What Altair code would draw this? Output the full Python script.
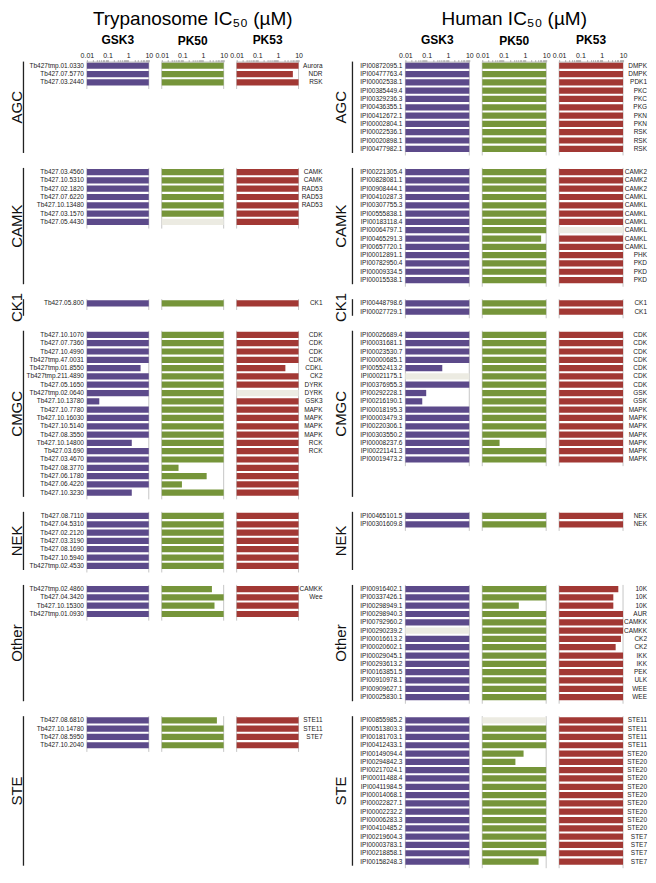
import altair as alt
import pandas as pd

FONT = "Liberation Sans"
GROUPS = ["AGC", "CAMK", "CK1", "CMGC", "NEK", "Other", "STE"]
TICKS = [0.01, 0.02, 0.03, 0.04, 0.05, 0.06, 0.07, 0.08, 0.09,
         0.1, 0.2, 0.3, 0.4, 0.5, 0.6, 0.7, 0.8, 0.9,
         1, 2, 3, 4, 5, 6, 7, 8, 9, 10]
TICK_LABELS = [0.01, 0.1, 1, 10]

# ---------------- Trypanosome ----------------
TRYP_COUNTS = [3, 7, 1, 20, 7, 4, 4]
TRYP_IDS = [
    "Tb427tmp.01.0330", "Tb427.07.5770", "Tb427.03.2440",
    "Tb427.03.4560", "Tb427.10.5310", "Tb427.02.1820", "Tb427.07.6220", "Tb427.10.13480", "Tb427.03.1570", "Tb427.05.4430",
    "Tb427.05.800",
    "Tb427.10.1070", "Tb427.07.7360", "Tb427.10.4990", "Tb427tmp.47.0031", "Tb427tmp.01.8550", "Tb427tmp.211.4890",
    "Tb427.05.1650", "Tb427tmp.02.0640", "Tb427.10.13780", "Tb427.10.7780", "Tb427.10.16030", "Tb427.10.5140",
    "Tb427.08.3550", "Tb427.10.14800", "Tb427.03.690", "Tb427.03.4670", "Tb427.08.3770", "Tb427.06.1780",
    "Tb427.06.4220", "Tb427.10.3230",
    "Tb427.08.7110", "Tb427.04.5310", "Tb427.02.2120", "Tb427.03.3190", "Tb427.08.1690", "Tb427.10.5940", "Tb427tmp.02.4530",
    "Tb427tmp.02.4860", "Tb427.04.3420", "Tb427.10.15300", "Tb427tmp.01.0930",
    "Tb427.08.6810", "Tb427.10.14780", "Tb427.08.5950", "Tb427.10.2040",
]
TRYP_FAMILY = [
    "Aurora", "NDR", "RSK",
    "CAMK", "CAMK", "RAD53", "RAD53", "RAD53", "", "",
    "CK1",
    "CDK", "CDK", "CDK", "CDK", "CDKL", "CK2", "DYRK", "DYRK", "GSK3", "MAPK", "MAPK", "MAPK", "MAPK",
    "RCK", "RCK", "", "", "", "", "",
    "", "", "", "", "", "", "",
    "CAMKK", "Wee", "", "",
    "STE11", "STE11", "STE7", "",
]
TRYP_GSK3 = [
    10, 10, 10,
    10, 10, 10, 10, 10, 10, 10,
    10,
    10, 10, 10, 10, 4, 10, 10, 10, 0.04, 10, 10, 10, 10, 1.5, 10, 10, 10, 10, 10, 1.5,
    10, 10, 10, 10, 10, 10, 10,
    10, 10, 10, 10,
    10, 10, 10, 10,
]
TRYP_PK50 = [
    10, 10, 10,
    10, 10, 10, 10, 10, 10, None,
    10,
    10, 10, 10, 10, 10, 10, 10, 10, 10, 10, 10, 10, 10, 10, 10, 10, 0.065, 1.5, 0.095, 10,
    10, 10, 10, 10, 10, 10, 10,
    2.7, 10, 3.6, 10,
    4.7, 10, 10, 10,
]
TRYP_PK53 = [
    10, 5.3, 10,
    10, 10, 10, 10, 10, 10, 10,
    10,
    10, 10, 10, 10, 2.3, 10, 10, None, 10, 10, 10, 10, 10, 10, 10, 10, 10, 10, 10, 10,
    10, 10, 10, 10, 10, 10, 10,
    10, 10, 10, 10,
    10, 10, 10, 10,
]

# ---------------- Human ----------------
HUMAN_COUNTS = [11, 14, 2, 16, 2, 14, 18]
HUMAN_IDS = [
    "IPI00872095.1", "IPI00477763.4", "IPI00002538.1", "IPI00385449.4", "IPI00329236.3", "IPI00436355.1",
    "IPI00412672.1", "IPI00002804.1", "IPI00022536.1", "IPI00020898.1", "IPI00477982.1",
    "IPI00221305.4", "IPI00828081.1", "IPI00908444.1", "IPI00410287.3", "IPI00307755.3", "IPI00555838.1",
    "IPI00183118.4", "IPI00064797.1", "IPI00465291.3", "IPI00657720.1", "IPI00012891.1", "IPI00782950.4",
    "IPI00009334.5", "IPI00015538.1",
    "IPI00448798.6", "IPI00027729.1",
    "IPI00026689.4", "IPI00031681.1", "IPI00023530.7", "IPI00000685.1", "IPI00552413.2", "IPI00021175.1",
    "IPI00376955.3", "IPI00292228.1", "IPI00216190.1", "IPI00018195.3", "IPI00003479.3", "IPI00220306.1",
    "IPI00303550.2", "IPI00008237.6", "IPI00221141.3", "IPI00019473.2",
    "IPI00465101.5", "IPI00301609.8",
    "IPI00916402.1", "IPI00337426.1", "IPI00298949.1", "IPI00298940.3", "IPI00792960.2", "IPI00290239.2",
    "IPI00016613.2", "IPI00020602.1", "IPI00029045.1", "IPI00293613.2", "IPI00163851.5", "IPI00910978.1",
    "IPI00909627.1", "IPI00025830.1",
    "IPI00855985.2", "IPI00513803.3", "IPI00181703.1", "IPI00412433.1", "IPI00149094.4", "IPI00294842.3",
    "IPI00217024.1", "IPI00011488.4", "IPI00411984.5", "IPI00014068.1", "IPI00022827.1", "IPI00002232.2",
    "IPI00006283.3", "IPI00410485.2", "IPI00219604.3", "IPI00003783.1", "IPI00218858.1", "IPI00158248.3",
]
HUMAN_FAMILY = [
    "DMPK", "DMPK", "PDK1", "PKC", "PKC", "PKG", "PKN", "PKN", "RSK", "RSK", "RSK",
    "CAMK2", "CAMK2", "CAMK2", "CAMKL", "CAMKL", "CAMKL", "CAMKL", "CAMKL", "CAMKL", "CAMKL",
    "PHK", "PKD", "PKD", "PKD",
    "CK1", "CK1",
    "CDK", "CDK", "CDK", "CDK", "CDK", "CDK", "CDK", "GSK", "GSK",
    "MAPK", "MAPK", "MAPK", "MAPK", "MAPK", "MAPK", "MAPK",
    "NEK", "NEK",
    "10K", "10K", "10K", "AUR", "CAMKK", "CAMKK", "CK2", "CK2", "IKK", "IKK", "PEK", "ULK", "WEE", "WEE",
    "STE11", "STE11", "STE11", "STE11", "STE20", "STE20", "STE20", "STE20", "STE20", "STE20", "STE20",
    "STE20", "STE20", "STE20", "STE7", "STE7", "STE7", "STE7",
]
HUMAN_GSK3 = [
    10, 10, 10, 10, 10, 10, 10, 10, 10, 10, 10,
    10, 10, 10, 10, 10, 10, 10, 10, 10, 10, 10, 10, 10, 10,
    10, 10,
    10, 10, 10, 10, 0.54, None, 10, 0.095, 0.062, 10, 10, 10, 10, 10, 10, 10,
    10, 10,
    10, 10, 10, 10, 10, None, 10, 10, 10, 10, 10, 10, 10, 10,
    10, 10, 10, 10, 10, 10, 10, 10, 10, 10, 10, 10, 10, 10, 10, 10, 10, 10,
]
HUMAN_PK50 = [
    10, 10, 10, 10, 10, 10, 10, 10, 10, 10, 10,
    10, 10, 10, 10, 10, 10, 10, 10, 5.8, 10, 10, 10, 10, 10,
    10, 10,
    10, 10, 10, 10, 10, 10, 10, 10, 10, 10, 10, 10, 10, 0.065, 10, 10,
    10, 10,
    10, 10, 0.52, 10, 10, 10, 10, 10, 10, 10, 10, 10, 10, 10,
    None, 10, 10, 10, 0.87, 0.36, 10, 10, 10, 10, 10, 10, 10, 10, 10, 10, 10, 4.4,
]
HUMAN_PK53 = [
    10, 10, 10, 10, 10, 10, 10, 10, 10, 10, 10,
    10, 10, 10, 10, 10, 10, 10, None, 10, 10, 10, 10, 10, 10,
    10, 10,
    10, 10, 10, 10, 10, 10, 10, 10, 10, 10, 10, 10, 10, 10, 10, 10,
    10, 10,
    6, 3.5, 3.5, 10, 10, 10, 8, 4.5, 10, 10, 10, 10, 10, 10,
    10, 10, 10, 10, 10, 10, 10, 10, 10, 10, 10, 10, 10, 10, 10, 10, 10, 10,
]

COLORS = {"GSK3": "#5c4a8a", "PK50": "#76953a", "PK53": "#a23834"}
GRAY = "#ecebe2"

# ---------------- layout helpers ----------------
GAP = 1.8
STEP = 8.32
BLOCK = [max(a, b) for a, b in zip(TRYP_COUNTS, HUMAN_COUNTS)]
STARTS = []
_s = 0.0
for n in BLOCK:
    STARTS.append(_s)
    _s += n + GAP
N_SLOTS = _s - GAP + 0.4
H = N_SLOTS * STEP


def side_frames(side, counts, ids, fams, g, p50, p53):
    rows, edges = [], []
    k = 0
    for gi, n in enumerate(counts):
        for i in range(n):
            for kin, vals in (("GSK3", g), ("PK50", p50), ("PK53", p53)):
                v = vals[k]
                rows.append({"side": side, "kinase": kin, "group": GROUPS[gi], "name": ids[k],
                             "family": fams[k], "slot": STARTS[gi] + i,
                             "value": v, "missing": v is None})
            k += 1
        for xv in (0.01, 10):
            edges.append({"side": side, "group": GROUPS[gi], "start": STARTS[gi], "n": n, "xv": xv})
    return pd.DataFrame(rows), pd.DataFrame(edges)


tryp_df, tryp_edges = side_frames("T", TRYP_COUNTS, TRYP_IDS, TRYP_FAMILY, TRYP_GSK3, TRYP_PK50, TRYP_PK53)
hum_df, hum_edges = side_frames("H", HUMAN_COUNTS, HUMAN_IDS, HUMAN_FAMILY, HUMAN_GSK3, HUMAN_PK50, HUMAN_PK53)

yscale = alt.Scale(domain=[0, N_SLOTS], reverse=True, nice=False, zero=False)


def xscale():
    return alt.Scale(type="log", domain=[0.01, 10], nice=False)


def xaxis():
    return alt.Axis(orient="top", values=TICKS, format="~g",
                    labelExpr="indexof(%s, datum.value) >= 0 ? datum.label : ''" % str(TICK_LABELS),
                    tickSize=2, labelFontSize=7, labelPadding=1, labelColor="#222",
                    domainColor="#a0a0a0", tickColor="#a0a0a0", domainWidth=0.8, tickWidth=0.8,
                    grid=False, title=None, labelOverlap=False, labelFlush=False)


def panel(df, edges, kin, width, title, names=False, family=False):
    d = df[df.kinase == kin]
    base = alt.Chart(d)
    edge = alt.Chart(edges).transform_calculate(end="datum.start + datum.n + 0.3").mark_rule(
        color="#b8b8b8", strokeWidth=0.8).encode(
        x=alt.X("xv:Q", scale=xscale(), axis=xaxis()),
        y=alt.Y("start:Q", scale=yscale, axis=None), y2="end:Q")
    bars = base.transform_calculate(
        lo="0.01", hi="datum.missing ? 10 : datum.value",
        y0="datum.slot + 0.125", y1="datum.slot + 0.875").mark_rect().encode(
        x=alt.X("lo:Q", scale=xscale(), axis=xaxis()), x2="hi:Q",
        y=alt.Y("y0:Q", scale=yscale, axis=None), y2="y1:Q",
        color=alt.condition(alt.datum.missing, alt.value(GRAY), alt.value(COLORS[kin])))
    layers = [edge, bars]
    if names:
        layers.append(base.transform_calculate(yc="datum.slot + 0.5").mark_text(
            align="right", baseline="middle", fontSize=6.5, color="#222", dx=-3).encode(
            x=alt.value(0), y=alt.Y("yc:Q", scale=yscale, axis=None), text="name:N"))
    if family:
        layers.append(base.transform_calculate(yc="datum.slot + 0.5").mark_text(
            align="right", baseline="middle", fontSize=6.5, color="#222").encode(
            x=alt.value(width + 24), y=alt.Y("yc:Q", scale=yscale, axis=None), text="family:N"))
    return alt.layer(*layers).properties(width=width, height=H, title=title)


def sub_title(t):
    return alt.TitleParams(t, fontSize=12, fontWeight="bold", offset=5, anchor="middle", color="black")


def main_title(t, sub):
    return alt.TitleParams(t, subtitle=sub, fontSize=19, fontWeight="normal", color="black",
                           subtitleFontSize=12, subtitleFontWeight="bold", subtitleColor="black",
                           subtitlePadding=7, offset=5, anchor="middle")


grp_df = pd.DataFrame({"group": GROUPS, "start": STARTS, "n": BLOCK})


def group_chart(width, xt, xr):
    g = alt.Chart(grp_df).transform_calculate(end="datum.start + datum.n",
                                               mid="datum.start + datum.n / 2")
    line = g.mark_rule(color="#222", strokeWidth=1.3).encode(
        x=alt.value(xr), y=alt.Y("start:Q", scale=yscale, axis=None), y2="end:Q")
    txt = g.mark_text(angle=270, align="center", baseline="middle", fontSize=15, color="#111").encode(
        x=alt.value(xt), y=alt.Y("mid:Q", scale=yscale, axis=None), text="group:N")
    return alt.layer(line, txt).properties(width=width, height=H)


W_L = 62
W_R = 64
charts = [
    group_chart(63, 6, 12.5),
    panel(tryp_df, tryp_edges, "GSK3", W_L, sub_title("GSK3"), names=True),
    panel(tryp_df, tryp_edges, "PK50", W_L, main_title("Trypanosome IC₅₀ (µM)", "PK50")),
    panel(tryp_df, tryp_edges, "PK53", W_L, sub_title("PK53"), family=True),
    group_chart(81, 30, 41),
    panel(hum_df, hum_edges, "GSK3", W_R, sub_title("GSK3"), names=True),
    panel(hum_df, hum_edges, "PK50", W_R, main_title("Human IC₅₀ (µM)", "PK50")),
    panel(hum_df, hum_edges, "PK53", W_R, sub_title("PK53"), family=True),
]

chart = alt.hconcat(*charts, spacing=13, bounds="flush").resolve_scale(
    x="independent", y="independent").properties(padding=1).configure(
    font=FONT).configure_view(stroke=None)

chart.save("out.html", embed_options={"renderer": "svg", "actions": False})
